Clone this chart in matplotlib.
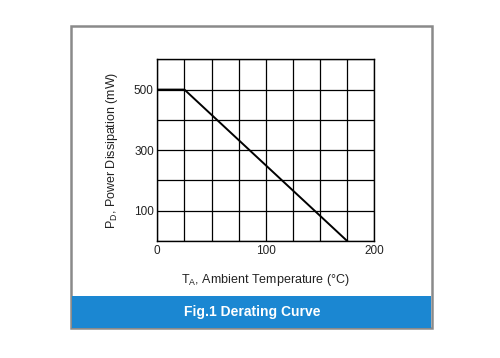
import matplotlib.pyplot as plt
from matplotlib.patches import Rectangle

plt.rcParams['font.family'] = ['Liberation Sans', 'DejaVu Sans']

# 降额曲线数据
temp = [0, 25, 175]
power = [500, 500, 0]
x_grid = [0, 25, 50, 75, 100, 125, 150, 175, 200]
y_grid = [0, 100, 200, 300, 400, 500, 600]
x_labels = {0: '0', 100: '100', 200: '200'}
y_labels = {100: '100', 300: '300', 500: '500'}

W, H = 500, 358
fig = plt.figure(figsize=(W / 100, H / 100), dpi=100)

def px(x0, y0, x1, y1):
    # 像素坐标 -> figure坐标
    return x0 / W, 1 - y1 / H, (x1 - x0) / W, (y1 - y0) / H

# 外框和蓝色标题栏
x, y, w, h = px(71, 26, 432, 328)
fig.patches.append(Rectangle((x, y), w, h, transform=fig.transFigure, zorder=-2,
                             facecolor='white', edgecolor='#8a8a8a', linewidth=1.8))
x, y, w, h = px(72, 296, 431, 328)
fig.patches.append(Rectangle((x, y), w, h, transform=fig.transFigure, zorder=-1,
                             facecolor='#1b87d2', edgecolor='none'))
fig.text(252 / W, 1 - 312 / H, 'Fig.1 Derating Curve', color='white',
         fontsize=10, fontweight='bold', ha='center', va='center')

ax = fig.add_axes(px(157.3, 59.3, 374.3, 241))
ax.plot(temp, power, color='black', linewidth=1.4)
ax.set_xlim(0, 200)
ax.set_ylim(0, 600)
ax.set_xticks(x_grid)
ax.set_yticks(y_grid)
ax.set_xticklabels([x_labels.get(v, '') for v in x_grid])
ax.set_yticklabels([y_labels.get(v, '') for v in y_grid])
ax.tick_params(length=0, labelsize=8.5, colors='#222222')
ax.tick_params(axis='y', pad=2.5)
ax.tick_params(axis='x', pad=3)
ax.grid(True, color='black', linewidth=0.9)
for s in ax.spines.values():
    s.set_linewidth(1.0)

ax.set_xlabel('T$_\\mathregular{A}$, Ambient Temperature (°C)', fontsize=9,
              labelpad=11, color='#222222')
ax.set_ylabel('P$_\\mathregular{D}$, Power Dissipation (mW)', fontsize=9,
              labelpad=10, color='#222222')

fig.savefig('out.png', dpi=100)
